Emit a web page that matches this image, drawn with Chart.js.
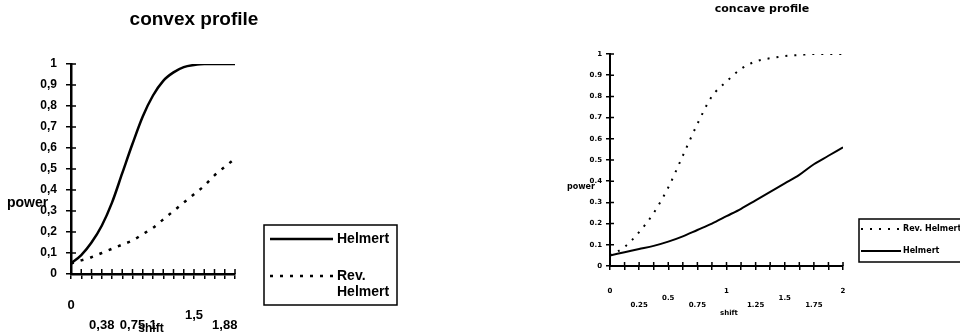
<!DOCTYPE html>
<html>
<head>
<meta charset="utf-8">
<script src="https://cdn.jsdelivr.net/npm/chart.js"></script>
<style>
  html, body { margin: 0; padding: 0; background: #fff; }
  #wrap { display: flex; width: 960px; height: 335px; }
  canvas { display: block; }
</style>
</head>
<body>
<div id="wrap">
  <canvas id="convexChart" width="420" height="335"></canvas>
  <canvas id="concaveChart" width="540" height="335"></canvas>
</div>
<script>
// shift values shared by both profiles
const shift = [0, 0.125, 0.25, 0.375, 0.5, 0.625, 0.75, 0.875, 1, 1.125, 1.25, 1.375, 1.5, 1.625, 1.75, 1.875, 2];

// convex profile
const convexHelmert = [0.05, 0.09, 0.15, 0.23, 0.34, 0.48, 0.62, 0.75, 0.85, 0.92, 0.96, 0.985, 0.995, 1, 1, 1, 1];
const convexRevHelmert = [0.05, 0.065, 0.08, 0.1, 0.12, 0.14, 0.16, 0.19, 0.22, 0.26, 0.3, 0.34, 0.38, 0.42, 0.47, 0.51, 0.55];
const convexShiftTicks = [0, 0.375, 0.75, 1, 1.5, 1.875];
const convexShiftLabels = ['0', '0,38', '0,75', '1', '1,5', '1,88'];
const convexPowerLabels = ['0', '0,1', '0,2', '0,3', '0,4', '0,5', '0,6', '0,7', '0,8', '0,9', '1'];

// concave profile
const concaveRevHelmert = [0.05, 0.09, 0.16, 0.25, 0.37, 0.52, 0.67, 0.8, 0.87, 0.93, 0.965, 0.98, 0.99, 0.995, 1, 1, 1];
const concaveHelmert = [0.05, 0.065, 0.08, 0.095, 0.115, 0.14, 0.17, 0.2, 0.235, 0.27, 0.31, 0.35, 0.39, 0.43, 0.48, 0.52, 0.56];
const concaveShiftTicks = [0, 0.25, 0.5, 0.75, 1, 1.25, 1.5, 1.75, 2];
const concaveShiftLabels = ['0', '0.25', '0.5', '0.75', '1', '1.25', '1.5', '1.75', '2'];
const concavePowerLabels = ['0', '0.1', '0.2', '0.3', '0.4', '0.5', '0.6', '0.7', '0.8', '0.9', '1'];

Chart.defaults.font.family = "'Liberation Sans', Arial, sans-serif";
Chart.defaults.color = '#000';

function points(values) {
    return shift.map((x, i) => ({x: x, y: values[i]}));
}

// put a label on one of three staggered rows
function stagger(label, row) {
    const rows = ['', '', ''];
    rows[row] = label;
    return rows;
}

// tick marks that also poke into the plot area
function crossTicks(length, width) {
    return {
        id: 'crossTicks',
        beforeDatasetsDraw(chart) {
            const {ctx, chartArea, scales: {x, y}} = chart;
            ctx.save();
            ctx.strokeStyle = '#000';
            ctx.lineWidth = width;
            ctx.beginPath();
            x.ticks.forEach((t, i) => {
                const px = x.getPixelForTick(i);
                ctx.moveTo(px, chartArea.bottom);
                ctx.lineTo(px, chartArea.bottom - length);
            });
            y.ticks.forEach((t, i) => {
                const py = y.getPixelForTick(i);
                ctx.moveTo(chartArea.left, py);
                ctx.lineTo(chartArea.left + length, py);
            });
            ctx.stroke();
            ctx.restore();
        }
    };
}

// free text: title and axis names
function looseText(items) {
    return {
        id: 'looseText',
        afterDraw(chart) {
            const ctx = chart.ctx;
            ctx.save();
            ctx.fillStyle = '#000';
            ctx.textBaseline = 'middle';
            items.forEach(it => {
                ctx.font = it.font;
                ctx.textAlign = it.align || 'center';
                ctx.fillText(it.text, it.x, it.y);
            });
            ctx.restore();
        }
    };
}

// boxed legend, samples taken from the datasets
function boxLegend(cfg) {
    return {
        id: 'boxLegend',
        afterDraw(chart) {
            const ctx = chart.ctx;
            ctx.save();
            ctx.strokeStyle = '#000';
            ctx.lineWidth = cfg.borderWidth;
            ctx.strokeRect(cfg.box[0], cfg.box[1], cfg.box[2], cfg.box[3]);
            ctx.font = cfg.font;
            ctx.fillStyle = '#000';
            ctx.textBaseline = 'middle';
            ctx.textAlign = 'left';
            chart.data.datasets.forEach((ds, i) => {
                const y = cfg.rows[i];
                ctx.lineWidth = ds.borderWidth;
                ctx.setLineDash(ds.borderDash || []);
                ctx.beginPath();
                ctx.moveTo(cfg.lineFrom, y);
                ctx.lineTo(cfg.lineTo, y);
                ctx.stroke();
                ctx.setLineDash([]);
                const lines = cfg.wrap ? ds.label.split(' ') : [ds.label];
                lines.forEach((t, j) => ctx.fillText(t, cfg.textX, y + j * cfg.lineHeight));
            });
            ctx.restore();
        }
    };
}

// ---- convex profile ----
new Chart(document.getElementById('convexChart'), {
    type: 'line',
    data: {
        datasets: [{
            label: 'Helmert',
            data: points(convexHelmert),
            borderColor: '#000',
            borderWidth: 2.5,
            pointRadius: 0,
            cubicInterpolationMode: 'monotone'
        }, {
            label: 'Rev. Helmert',
            data: points(convexRevHelmert),
            borderColor: '#000',
            borderWidth: 2.5,
            borderDash: [3, 7],
            pointRadius: 0,
            cubicInterpolationMode: 'monotone'
        }]
    },
    options: {
        responsive: false,
        animation: false,
        layout: { padding: { top: 64, right: 185, bottom: 0, left: 0 } },
        plugins: { legend: { display: false }, tooltip: { enabled: false } },
        scales: {
            x: {
                type: 'linear', min: 0, max: 2,
                afterFit(scale) { scale.height = 61; },
                ticks: {
                    stepSize: 0.125, autoSkip: false, maxRotation: 0, padding: 21,
                    font: { size: 13, weight: 'bold', lineHeight: '10px' },
                    callback(v) {
                        const k = convexShiftTicks.indexOf(v);
                        if (k < 0) return '';
                        return stagger(convexShiftLabels[k], v === 0 ? 0 : (v === 1.5 ? 1 : 2));
                    }
                },
                grid: { drawOnChartArea: false, tickLength: 5, color: '#000', lineWidth: 1.5 },
                border: { color: '#000', width: 2.5 }
            },
            y: {
                min: 0, max: 1,
                afterFit(scale) { scale.width = 71; },
                ticks: {
                    stepSize: 0.1, autoSkip: false, padding: 9,
                    font: { size: 12, weight: 'bold' },
                    callback: (v, i) => convexPowerLabels[i]
                },
                grid: { drawOnChartArea: false, tickLength: 5, color: '#000', lineWidth: 1.5 },
                border: { color: '#000', width: 2.5 }
            }
        }
    },
    plugins: [
        crossTicks(5, 1.5),
        looseText([
            { text: 'convex profile', x: 194, y: 20, font: "bold 19px 'Liberation Sans'" },
            { text: 'power', x: 7, y: 203, align: 'left', font: "bold 14px 'Liberation Sans'" },
            { text: 'shift', x: 151, y: 329, font: "bold 12px 'Liberation Sans'" }
        ]),
        boxLegend({
            box: [264, 225, 133, 80], borderWidth: 1.5,
            rows: [239, 276], lineFrom: 270, lineTo: 333, textX: 337,
            font: "bold 14px 'Liberation Sans'", wrap: true, lineHeight: 16
        })
    ]
});

// ---- concave profile ----
new Chart(document.getElementById('concaveChart'), {
    type: 'line',
    data: {
        datasets: [{
            label: 'Rev. Helmert',
            data: points(concaveRevHelmert),
            borderColor: '#000',
            borderWidth: 2,
            borderDash: [2, 7],
            pointRadius: 0,
            cubicInterpolationMode: 'monotone'
        }, {
            label: 'Helmert',
            data: points(concaveHelmert),
            borderColor: '#000',
            borderWidth: 2,
            pointRadius: 0,
            cubicInterpolationMode: 'monotone'
        }]
    },
    options: {
        responsive: false,
        animation: false,
        layout: { padding: { top: 54, right: 117, bottom: 0, left: 0 } },
        plugins: { legend: { display: false }, tooltip: { enabled: false } },
        scales: {
            x: {
                type: 'linear', min: 0, max: 2,
                afterFit(scale) { scale.height = 69; },
                ticks: {
                    stepSize: 0.125, autoSkip: false, maxRotation: 0, padding: 18,
                    font: { family: "'DejaVu Sans'", size: 7, weight: 'bold', lineHeight: '7px' },
                    callback(v) {
                        const k = concaveShiftTicks.indexOf(v);
                        if (k < 0) return '';
                        return stagger(concaveShiftLabels[k], v % 1 === 0 ? 0 : (v % 0.5 === 0 ? 1 : 2));
                    }
                },
                grid: { drawOnChartArea: false, tickLength: 4, color: '#000', lineWidth: 1.5 },
                border: { color: '#000', width: 2 }
            },
            y: {
                min: 0, max: 1,
                afterFit(scale) { scale.width = 190; },
                ticks: {
                    stepSize: 0.1, autoSkip: false, padding: 4,
                    font: { family: "'DejaVu Sans'", size: 7, weight: 'bold' },
                    callback: (v, i) => concavePowerLabels[i]
                },
                grid: { drawOnChartArea: false, tickLength: 4, color: '#000', lineWidth: 1.5 },
                border: { color: '#000', width: 2 }
            }
        }
    },
    plugins: [
        crossTicks(4, 1.5),
        looseText([
            { text: 'concave profile', x: 342, y: 9, font: "bold 11px 'DejaVu Sans'" },
            { text: 'power', x: 147, y: 187, align: 'left', font: "bold 8px 'DejaVu Sans'" },
            { text: 'shift', x: 309, y: 313, font: "bold 7px 'DejaVu Sans'" }
        ]),
        boxLegend({
            box: [439, 219, 130, 43], borderWidth: 1.5,
            rows: [229, 251], lineFrom: 441, lineTo: 481, textX: 483,
            font: "bold 8px 'DejaVu Sans'", wrap: false, lineHeight: 0
        })
    ]
});
</script>
</body>
</html>
